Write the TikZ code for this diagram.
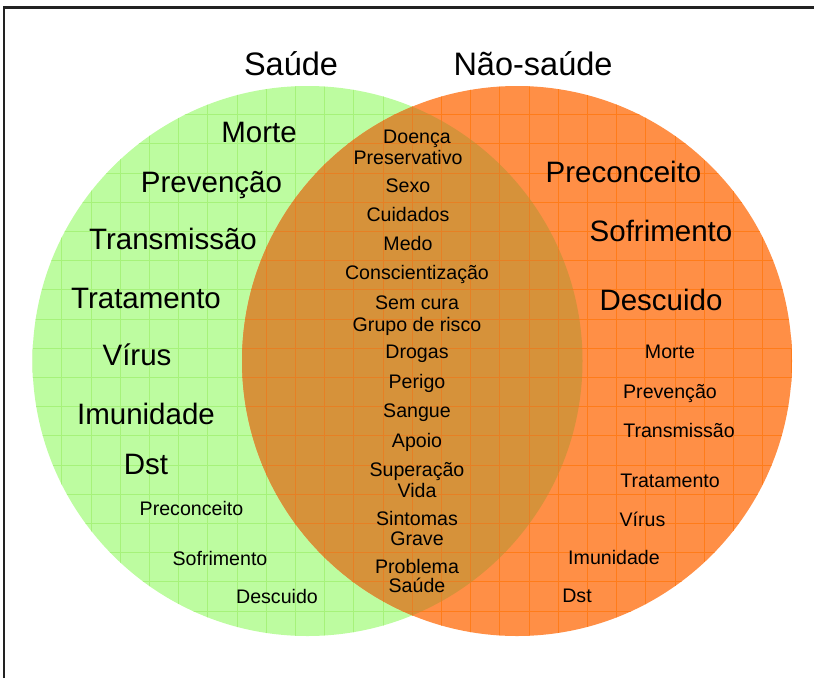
\documentclass[tikz,border=0pt]{standalone}
\usepackage{fontspec}
\setmainfont{Liberation Sans}
\definecolor{gfill}{RGB}{189,252,160}
\definecolor{glinec}{RGB}{166,242,122}
\definecolor{ofill}{RGB}{255,143,70}
\definecolor{olinec}{RGB}{255,124,26}
\definecolor{ifill}{RGB}{214,146,58}
\definecolor{ilinec}{RGB}{230,128,36}
\definecolor{framec}{RGB}{34,34,34}
\tikzset{
  title/.style={font=\fontsize{32.5}{34}\selectfont, text height=23.3pt, text depth=0pt, inner sep=0pt},
  big/.style={font=\fontsize{29.5}{31}\selectfont, text height=21.1pt, text depth=0pt, inner sep=0pt},
  small/.style={font=\fontsize{19.6}{21}\selectfont, text height=14.0pt, text depth=0pt, inner sep=0pt},
  gridline/.style={line width=0.9pt},
}
\newcommand{\mygrid}[1]{%
  \foreach \i in {0,...,27} \draw[gridline,#1] ({3.5+\i*29.2},0) -- ({3.5+\i*29.2},678);
  \foreach \j in {0,...,23} \draw[gridline,#1] (0,{27.1+\j*29.2}) -- (814,{27.1+\j*29.2});
}
\begin{document}
\begin{tikzpicture}[x=1pt,y=-1pt]
\useasboundingbox (0,0) rectangle (814,678);
\coordinate (G) at (307.5,361);
\coordinate (O) at (517,361);
% green circle
\fill[gfill] (G) circle[radius=275pt];
\begin{scope}
  \clip (G) circle[radius=275pt];
  \mygrid{glinec}
\end{scope}
% orange circle
\fill[ofill] (O) circle[radius=275pt];
\begin{scope}
  \clip (O) circle[radius=275pt];
  \mygrid{olinec}
\end{scope}
% intersection
\begin{scope}
  \clip (G) circle[radius=275pt];
  \fill[ifill] (O) circle[radius=275pt];
  \clip (O) circle[radius=275pt];
  \mygrid{ilinec}
\end{scope}
% frame
\draw[framec, line width=2.2pt] (4,678) -- (4,7.5) -- (814,7.5);
% titles
\node[title] (t1) at (291,64) {Saúde};
\node[title] (t2) at (533,64) {Não-saúde};
% left big
\node[big] (l1) at (259,131.5) {Morte};
\node[big] (l2) at (211.5,182) {Prevenção};
\node[big] (l3) at (173,238.5) {Transmissão};
\node[big] (l4) at (146,298) {Tratamento};
\node[big] (l5) at (137,355) {Vírus};
\node[big] (l6) at (146,414) {Imunidade};
\node[big] (l7) at (146,464) {Dst};
% left small
\node[small] (ls1) at (191.5,508) {Preconceito};
\node[small] (ls2) at (220,558.5) {Sofrimento};
\node[small] (ls3) at (277,596.5) {Descuido};
% middle
\node[small] (m1) at (417,136) {Doença};
\node[small] (m2) at (408,157) {Preservativo};
\node[small] (m3) at (408,185.5) {Sexo};
\node[small] (m4) at (408,214) {Cuidados};
\node[small] (m5) at (408,243) {Medo};
\node[small] (m6) at (417,272.5) {Conscientização};
\node[small] (m7) at (417,302) {Sem cura};
\node[small] (m8) at (417,324) {Grupo de risco};
\node[small] (m9) at (417,351.5) {Drogas};
\node[small] (m10) at (417,381) {Perigo};
\node[small] (m11) at (417,410) {Sangue};
\node[small] (m12) at (417,440) {Apoio};
\node[small] (m13) at (417,469) {Superação};
\node[small] (m14) at (417,490) {Vida};
\node[small] (m15) at (417,518) {Sintomas};
\node[small] (m16) at (417,538.5) {Grave};
\node[small] (m17) at (417,566.5) {Problema};
\node[small] (m18) at (417,585) {Saúde};
% right big
\node[big] (r1) at (623.5,171.5) {Preconceito};
\node[big] (r2) at (661,230.5) {Sofrimento};
\node[big] (r3) at (661,300) {Descuido};
% right small
\node[small] (rs1) at (670,351) {Morte};
\node[small] (rs2) at (670,391) {Prevenção};
\node[small] (rs3) at (679,430) {Transmissão};
\node[small] (rs4) at (670,480) {Tratamento};
\node[small] (rs5) at (642.5,519.5) {Vírus};
\node[small] (rs6) at (614,557) {Imunidade};
\node[small] (rs7) at (577,595.5) {Dst};
\end{tikzpicture}
\end{document}
